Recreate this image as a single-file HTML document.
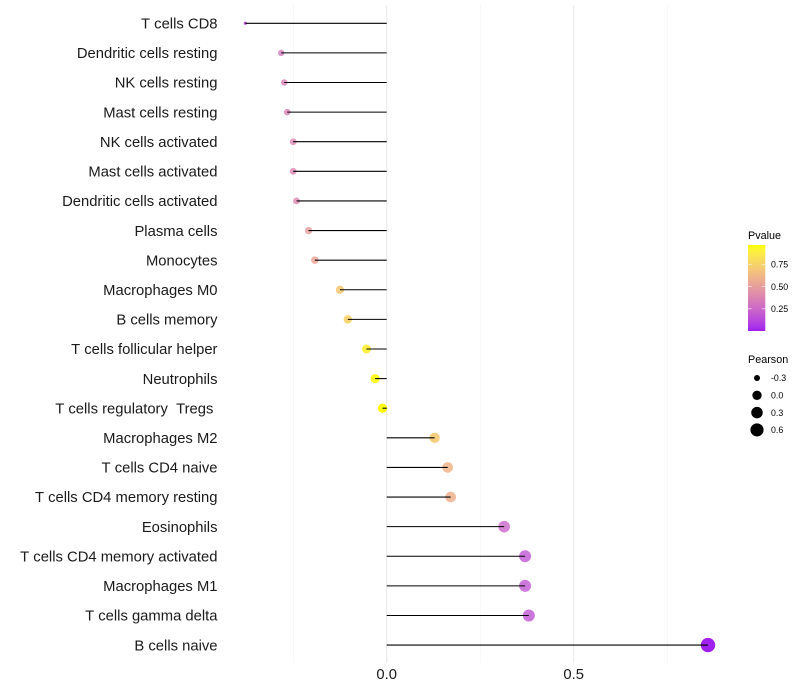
<!DOCTYPE html>
<html>
<head>
<meta charset="utf-8">
<style>
html,body{margin:0;padding:0;background:#fff;width:800px;height:700px;overflow:hidden}
svg{display:block}
text{font-family:"Liberation Sans",sans-serif}
</style>
</head>
<body>
<svg id="chart" width="800" height="700" viewBox="0 0 800 700" xmlns="http://www.w3.org/2000/svg">
  <defs>
    <linearGradient id="pvalue-gradient" x1="0" y1="1" x2="0" y2="0"></linearGradient>
  </defs>
  <rect x="0" y="0" width="800" height="700" fill="#ffffff"/>
  <g id="grid"></g>
  <g id="dots"></g>
  <g id="stems-top"></g>
  <g id="ylabels"></g>
  <g id="xlabels"></g>
  <g id="legend-color"></g>
  <g id="legend-size"></g>
</svg>
<script>
const categories = ["T cells CD8","Dendritic cells resting","NK cells resting","Mast cells resting","NK cells activated","Mast cells activated","Dendritic cells activated","Plasma cells","Monocytes","Macrophages M0","B cells memory","T cells follicular helper","Neutrophils","T cells regulatory  Tregs ","Macrophages M2","T cells CD4 naive","T cells CD4 memory resting","Eosinophils","T cells CD4 memory activated","Macrophages M1","T cells gamma delta","B cells naive"];
const pearson = [-0.378,-0.282,-0.274,-0.266,-0.25,-0.25,-0.241,-0.209,-0.192,-0.125,-0.104,-0.054,-0.031,-0.011,0.128,0.163,0.171,0.314,0.37,0.37,0.38,0.859];
const pvalue = [0.08,0.33,0.35,0.37,0.39,0.39,0.4,0.5,0.53,0.71,0.75,0.89,0.94,0.97,0.71,0.61,0.59,0.25,0.18,0.18,0.17,0.0];
const xMajorTicks = [0,0.5];
const xMinorTicks = [-0.25,0.25,0.75];
const xTickLabels = ["0.0","0.5"];
const colorTicks = [0.25,0.5,0.75];
const colorTickLabels = ["0.25","0.50","0.75"];
const sizeTicks = [-0.3,0,0.3,0.6];
const sizeTickLabels = ["-0.3","0.0","0.3","0.6"];

const NS = "http://www.w3.org/2000/svg";
function mk(tag, parent, attrs, txt) {
  const el = document.createElementNS(NS, tag);
  for (const k in attrs) el.setAttribute(k, attrs[k]);
  if (txt !== undefined) { el.textContent = txt; }
  parent.appendChild(el);
  return el;
}
const xScale = v => 386.7 + 374 * v;
const yScale = i => 23.28 + 29.61 * i;
const pMax = Math.max(...pvalue);
const pMin = Math.min(...pvalue);
const pearsonMin = Math.min(...pearson);
const pearsonMax = Math.max(...pearson);
function radius(v) {
  const t = Math.max(0, (v - pearsonMin) / (pearsonMax - pearsonMin));
  return 1.6 + 5.6 * Math.sqrt(t);
}
function dotAlpha(p) {
  const t = (p - pMin) / (pMax - pMin);
  const base = t > 0.45 ? 0.8 + 0.2 * (t - 0.45) / 0.55 : 0.8;
  return Math.max(base, 0.8 + 0.2 * Math.pow(Math.abs(2 * t - 1), 8));
}
function toLab(hex) {
  const c = [1,3,5].map(i => parseInt(hex.substr(i,2),16)/255).map(u => u > 0.04045 ? Math.pow((u+0.055)/1.055,2.4) : u/12.92);
  const X = (0.4124*c[0]+0.3576*c[1]+0.1805*c[2])/0.95047;
  const Y = 0.2126*c[0]+0.7152*c[1]+0.0722*c[2];
  const Z = (0.0193*c[0]+0.1192*c[1]+0.9505*c[2])/1.08883;
  const f = t => t > 0.008856 ? Math.cbrt(t) : 7.787*t+16/116;
  return [116*f(Y)-16, 500*(f(X)-f(Y)), 200*(f(Y)-f(Z))];
}
function fromLab(l) {
  const fy = (l[0]+16)/116, fx = l[1]/500+fy, fz = fy-l[2]/200;
  const g = t => t*t*t > 0.008856 ? t*t*t : (t-16/116)/7.787;
  const X = g(fx)*0.95047, Y = g(fy), Z = g(fz)*1.08883;
  const rgb = [3.2406*X-1.5372*Y-0.4986*Z, -0.9689*X+1.8758*Y+0.0415*Z, 0.0557*X-0.2040*Y+1.0570*Z];
  return "rgb(" + rgb.map(u => {
    u = Math.min(1, Math.max(0, u));
    u = u > 0.0031308 ? 1.055*Math.pow(u,1/2.4)-0.055 : 12.92*u;
    return Math.round(u*255);
  }).join(",") + ")";
}
const lowLab = toLab("#A020F0");
const highLab = toLab("#FFFF00");
function pColor(p) {
  const t = Math.min(1, Math.max(0, (p - pMin) / (pMax - pMin)));
  return fromLab(lowLab.map((a, i) => a + (highLab[i] - a) * t));
}

const gridG = document.getElementById("grid");
xMinorTicks.forEach(v => {
  const l = mk("line", gridG, {x1:xScale(v), x2:xScale(v), y1:5, y2:663, stroke:"#f0f0f0", "stroke-width":0.6});
  
  
});
xMajorTicks.forEach(v => {
  const l = mk("line", gridG, {x1:xScale(v), x2:xScale(v), y1:5, y2:663, stroke:"#ebebeb", "stroke-width":1.07});
  
  
});

const dotsG = document.getElementById("dots");
const topG = document.getElementById("stems-top");
const ylabG = document.getElementById("ylabels");
categories.forEach((name, i) => {
  const y = yScale(i), x = xScale(pearson[i]), x0 = xScale(0);
  const dot = mk("circle", dotsG, {cx:x, cy:y, r:radius(pearson[i]), fill:pColor(pvalue[i]), "fill-opacity":dotAlpha(pvalue[i])});
  
  
  const stem = mk("line", topG, {x1:x0, x2:x, y1:y, y2:y, stroke:"#000", "stroke-width":1.07});
  
  
  const label = mk("text", ylabG, {x:217.5, y:y+5.2, "text-anchor":"end", "font-size":14.8, fill:"#1a1a1a"}, name.replace(/ /g, "\u00a0"));
  
  
});

const xlabG = document.getElementById("xlabels");
xMajorTicks.forEach((v, i) => {
  const t = mk("text", xlabG, {x:xScale(v), y:679, "text-anchor":"middle", "font-size":14.8, fill:"#1a1a1a"}, xTickLabels[i]);
  
  
});

// colour legend
const grad = document.getElementById("pvalue-gradient");
for (let k = 0; k <= 20; k++) {
  const p = pMin + (pMax - pMin) * k / 20;
  mk("stop", grad, {offset:(k*5)+"%", "stop-color":pColor(p)});
}
const lc = document.getElementById("legend-color");
const cTitle = mk("text", lc, {x:748, y:239, "font-size":10.8, fill:"#000"}, "Pvalue");


const bar = mk("rect", lc, {x:748, y:245, width:17.3, height:86, fill:"url(#pvalue-gradient)"});


colorTicks.forEach((p, i) => {
  const y = 331 - (p - pMin) / (pMax - pMin) * 86;
  const a = mk("line", lc, {x1:748, x2:751.5, y1:y, y2:y, stroke:"#fff", "stroke-width":0.6});
  
  
  const b = mk("line", lc, {x1:761.8, x2:765.3, y1:y, y2:y, stroke:"#fff", "stroke-width":0.6});
  
  
  const t = mk("text", lc, {x:771, y:y+3.2, "font-size":8.8, fill:"#000"}, colorTickLabels[i]);
  
  
});

// size legend
const ls = document.getElementById("legend-size");
const sTitle = mk("text", ls, {x:748, y:363, "font-size":10.8, fill:"#000"}, "Pearson");


sizeTicks.forEach((v, i) => {
  const y = 378 + 17.3 * i;
  const c = mk("circle", ls, {cx:757, cy:y, r:radius(v), fill:"#000"});
  
  
  const t = mk("text", ls, {x:771, y:y+3.2, "font-size":8.8, fill:"#000"}, sizeTickLabels[i]);
  
  
});
</script>
</body>
</html>
